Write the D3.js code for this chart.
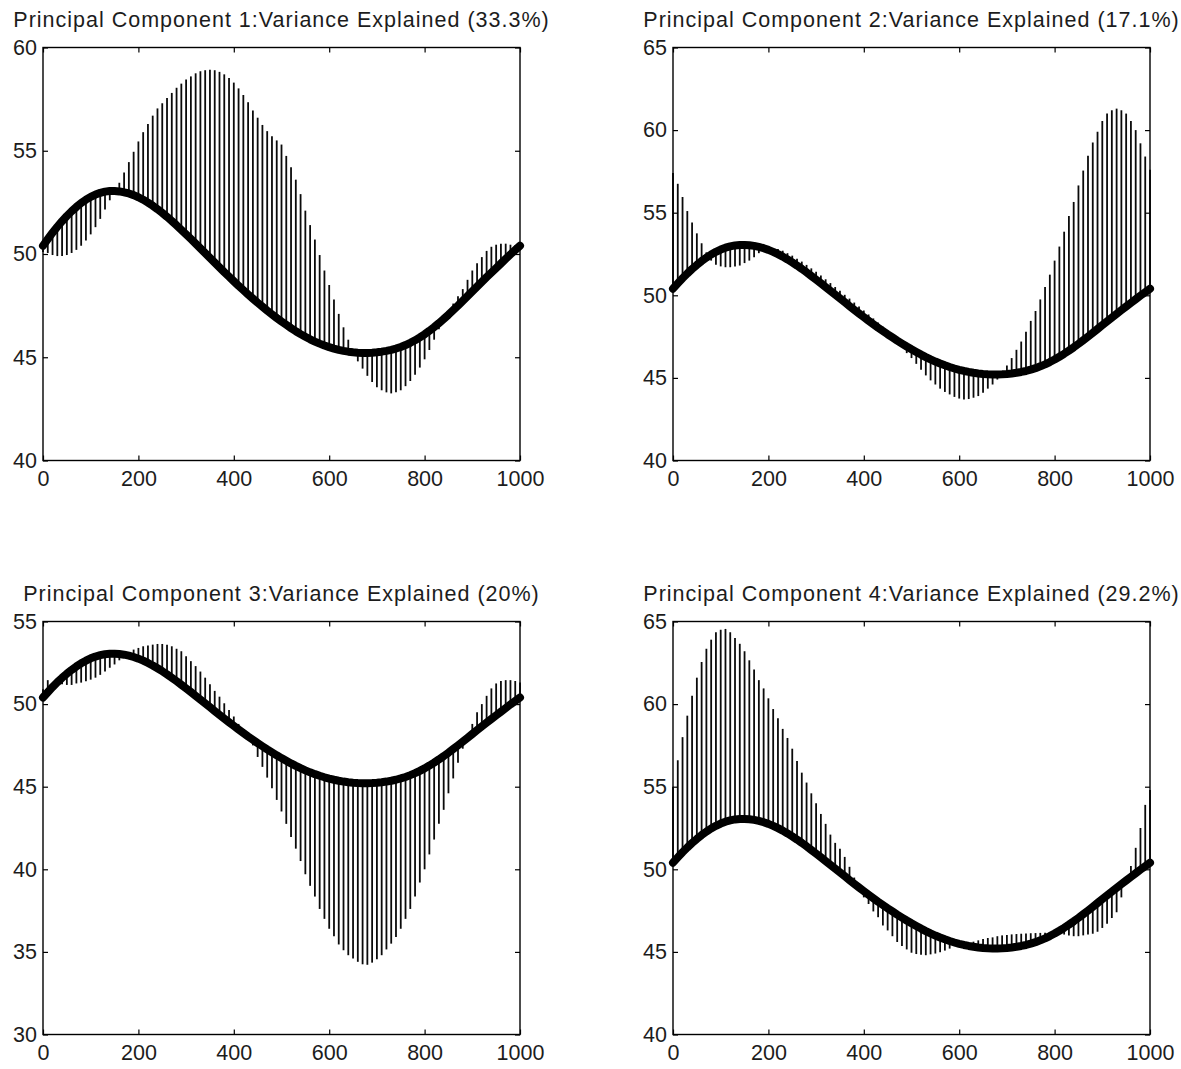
<!DOCTYPE html>
<html>
<head>
<meta charset="utf-8">
<script src="https://cdn.jsdelivr.net/npm/d3@7"></script>
<style>
  body { margin: 0; background: #ffffff; }
  svg text { font-family: "Liberation Sans", Arial, Helvetica, sans-serif; font-size: 21px; fill: #1c1c1c; }
</style>
</head>
<body>
<svg id="chart" width="1181" height="1069"></svg>
<script>
// Sample positions along the profile (every 10th of 1000 points)
const samplePositions = d3.range(0, 1001, 10);

// Mean profile shared by all four components
const meanCurve = [
  50.40,50.72,51.03,51.32,51.59,51.84,52.07,52.28,52.47,52.63,
  52.77,52.88,52.96,53.02,53.05,53.05,53.03,52.99,52.93,52.85,
  52.75,52.63,52.49,52.34,52.17,51.99,51.80,51.60,51.39,51.17,
  50.95,50.73,50.50,50.27,50.04,49.81,49.58,49.35,49.12,48.90,
  48.68,48.46,48.25,48.04,47.84,47.64,47.45,47.26,47.08,46.90,
  46.73,46.57,46.41,46.26,46.12,45.99,45.87,45.76,45.66,45.57,
  45.49,45.42,45.36,45.31,45.27,45.24,45.22,45.21,45.21,45.22,
  45.24,45.27,45.31,45.36,45.42,45.50,45.59,45.70,45.82,45.96,
  46.11,46.28,46.46,46.65,46.85,47.06,47.28,47.50,47.73,47.96,
  48.19,48.42,48.65,48.88,49.10,49.32,49.54,49.76,49.98,50.19,
  50.40
];

// Mean shifted along each principal component
const pc1Tips = [
  50.10,50.05,49.95,49.90,49.90,49.95,50.05,50.20,50.40,50.65,
  50.95,51.30,51.70,52.15,52.60,53.05,53.45,53.95,54.45,54.95,
  55.45,55.90,56.30,56.70,57.05,57.30,57.55,57.80,58.05,58.25,
  58.45,58.60,58.75,58.85,58.90,58.92,58.90,58.82,58.70,58.52,
  58.30,58.02,57.70,57.35,56.95,56.60,56.25,55.95,55.70,55.50,
  55.30,54.75,54.20,53.60,52.90,52.10,51.40,50.70,49.95,49.20,
  48.50,47.80,47.10,46.45,45.85,45.20,44.80,44.45,44.10,43.80,
  43.55,43.40,43.30,43.25,43.30,43.40,43.60,43.85,44.15,44.50,
  44.90,45.35,45.85,46.35,46.85,47.20,47.60,47.95,48.30,48.75,
  49.20,49.55,49.85,50.15,50.35,50.45,50.50,50.50,50.45,50.42,
  50.40
];
const pc2Tips = [
  57.40,56.75,55.95,55.10,54.40,53.75,53.15,52.60,52.10,51.85,
  51.75,51.70,51.70,51.75,51.80,51.95,52.10,52.30,52.55,52.80,
  52.85,52.85,52.80,52.70,52.55,52.40,52.22,52.04,51.84,51.63,
  51.42,51.20,50.97,50.74,50.50,50.27,50.03,49.80,49.56,49.32,
  49.08,48.84,48.60,48.35,48.10,47.82,47.55,47.25,46.90,46.50,
  46.20,45.85,45.50,45.15,44.85,44.60,44.35,44.15,44.00,43.85,
  43.75,43.70,43.72,43.80,43.90,44.10,44.35,44.60,44.90,45.30,
  45.75,46.20,46.70,47.20,47.80,48.45,49.05,49.75,50.50,51.25,
  52.10,52.95,53.85,54.80,55.65,56.65,57.55,58.45,59.25,59.90,
  60.55,61.00,61.20,61.30,61.20,61.00,60.55,60.00,59.20,58.40,
  57.60
];
const pc3Tips = [
  50.90,51.45,51.20,51.25,51.20,51.16,51.16,51.25,51.30,51.38,
  51.48,51.60,51.77,51.97,52.20,52.40,52.65,52.90,53.15,53.30,
  53.40,53.50,53.55,53.60,53.64,53.64,53.60,53.50,53.35,53.20,
  52.90,52.60,52.30,51.97,51.60,51.20,50.80,50.45,50.05,49.65,
  49.25,48.80,48.30,47.95,47.50,46.80,46.20,45.55,44.90,44.20,
  43.50,42.75,41.95,41.25,40.50,39.70,39.00,38.35,37.60,37.00,
  36.40,35.95,35.45,35.10,34.80,34.60,34.40,34.25,34.22,34.35,
  34.55,34.80,35.15,35.50,35.90,36.40,37.00,37.60,38.35,39.20,
  40.00,40.90,41.80,42.75,43.60,44.60,45.50,46.45,47.30,48.10,
  48.80,49.50,50.00,50.50,50.95,51.25,51.40,51.45,51.45,51.40,
  51.30
];
const pc4Tips = [
  55.00,56.60,58.00,59.30,60.50,61.60,62.55,63.35,63.90,64.35,
  64.50,64.55,64.35,64.00,63.65,63.20,62.65,62.10,61.45,60.95,
  60.35,59.70,59.15,58.50,57.95,57.30,56.55,55.85,55.25,54.60,
  54.00,53.35,52.75,52.10,51.60,51.25,50.75,50.15,49.50,48.90,
  48.30,47.90,47.45,47.10,46.60,46.30,45.95,45.60,45.35,45.15,
  44.95,44.87,44.82,44.80,44.85,44.90,44.98,45.08,45.20,45.35,
  45.48,45.50,45.55,45.62,45.70,45.78,45.84,45.88,45.95,46.00,
  46.03,46.06,46.08,46.10,46.12,46.13,46.14,46.15,46.16,46.16,
  46.16,46.12,46.05,46.00,45.95,45.95,46.00,46.05,46.10,46.22,
  46.45,46.70,47.05,47.40,48.30,49.30,50.20,51.30,52.50,53.90,
  54.80
];

const titles = [
  "Principal Component 1:Variance Explained (33.3%)",
  "Principal Component 2:Variance Explained (17.1%)",
  "Principal Component 3:Variance Explained (20%)",
  "Principal Component 4:Variance Explained (29.2%)"
];
const xTicks = [0, 200, 400, 600, 800, 1000];
const yTicks1 = [40, 45, 50, 55, 60];
const yTicks2 = [40, 45, 50, 55, 60, 65];
const yTicks3 = [30, 35, 40, 45, 50, 55];
const yTicks4 = [40, 45, 50, 55, 60, 65];

const panels = [
  { title: titles[0], tips: pc1Tips, yTicks: yTicks1, col: 0, row: 0 },
  { title: titles[1], tips: pc2Tips, yTicks: yTicks2, col: 1, row: 0 },
  { title: titles[2], tips: pc3Tips, yTicks: yTicks3, col: 0, row: 1 },
  { title: titles[3], tips: pc4Tips, yTicks: yTicks4, col: 1, row: 1 }
];

// subplot geometry
const colLeft = [43, 673];
const rowTop = [47.5, 621.5];
const plotW = 477, plotH = 413, tick = 5;

const svg = d3.select("#chart");

panels.forEach(p => {
  const x0 = colLeft[p.col], y0 = rowTop[p.row];
  const g = svg.append("g").attr("transform", `translate(${x0},${y0})`);

  const x = d3.scaleLinear().domain([0, 1000]).range([0, plotW]);
  const y = d3.scaleLinear()
    .domain([p.yTicks[0], p.yTicks[p.yTicks.length - 1]])
    .range([plotH, 0]);

  // stems from the mean to the shifted profile
  g.append("g").selectAll("line")
    .data(samplePositions)
    .join("line")
      .attr("x1", d => x(d)).attr("x2", d => x(d))
      .attr("y1", (d, i) => y(meanCurve[i]))
      .attr("y2", (d, i) => y(p.tips[i]))
      .attr("stroke", "#0a0a0a")
      .attr("stroke-width", 1.8);

  // mean profile
  const line = d3.line()
    .x((d, i) => x(samplePositions[i]))
    .y(d => y(d));
  g.append("path")
    .datum(meanCurve)
    .attr("d", line)
    .attr("fill", "none")
    .attr("stroke", "#000")
    .attr("stroke-width", 8)
    .attr("stroke-linejoin", "round")
    .attr("stroke-linecap", "round");

  // axes with inward ticks on all four sides
  const styleAxis = sel => {
    sel.select(".domain").remove();
    sel.selectAll(".tick line").attr("stroke", "#000").attr("stroke-width", 1.2);
    sel.selectAll("text").attr("fill", "#1c1c1c").style("font-size", "21.5px");
  };
  const fmt = d3.format("d");
  g.append("g").attr("transform", `translate(0,${plotH})`)
    .call(d3.axisBottom(x).tickValues(xTicks).tickFormat(fmt).tickSizeInner(-tick).tickSizeOuter(0).tickPadding(10))
    .call(styleAxis);
  g.append("g")
    .call(d3.axisTop(x).tickValues(xTicks).tickSizeInner(-tick).tickSizeOuter(0).tickFormat(""))
    .call(styleAxis);
  g.append("g")
    .call(d3.axisLeft(y).tickValues(p.yTicks).tickFormat(fmt).tickSizeInner(-tick).tickSizeOuter(0).tickPadding(6))
    .call(styleAxis);
  g.append("g").attr("transform", `translate(${plotW},0)`)
    .call(d3.axisRight(y).tickValues(p.yTicks).tickSizeInner(-tick).tickSizeOuter(0).tickFormat(""))
    .call(styleAxis);

  g.append("rect")
    .attr("width", plotW).attr("height", plotH)
    .attr("fill", "none").attr("stroke", "#000").attr("stroke-width", 1.4);

  g.append("text")
    .attr("x", plotW / 2).attr("y", -20.5)
    .attr("text-anchor", "middle")
    .style("font-size", "21.5px")
    .style("letter-spacing", "1px")
    .text(p.title);
});
</script>
</body>
</html>
